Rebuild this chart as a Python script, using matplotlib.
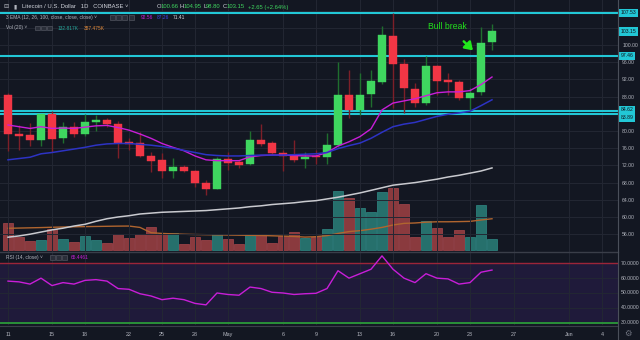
import matplotlib
matplotlib.use("Agg")
import matplotlib.pyplot as plt
import matplotlib.transforms as mtransforms
from matplotlib.patches import Rectangle
import numpy as np

# LTC/USD daily candles, 11 Apr .. 25 May
opens = [88.4, 79.3, 79.0, 77.8, 83.9, 78.3, 80.9, 79.2, 82.1, 82.6,
         81.6, 77.5, 77.1, 74.3, 73.3, 70.7, 71.7, 70.7, 67.8, 66.6,
         73.5, 72.8, 72.3, 77.9, 77.1, 75.0, 74.2, 73.4, 74.2, 73.9,
         76.7, 88.4, 84.9, 88.5, 91.5, 102.2, 95.7, 89.8, 86.6, 95.1,
         91.9, 91.3, 87.6, 89.0, 100.66]
highs = [88.9, 81.4, 81.8, 84.0, 84.6, 82.0, 82.2, 83.9, 83.8, 83.0,
         82.4, 78.3, 79.8, 75.2, 74.8, 73.7, 72.0, 70.9, 68.6, 74.0,
         75.2, 73.3, 80.0, 81.6, 77.6, 75.6, 77.9, 75.2, 75.6, 79.5,
         96.1, 94.3, 93.6, 94.3, 104.4, 107.53, 96.7, 91.1, 97.4, 95.3,
         93.6, 91.9, 89.9, 104.1, 104.95]
lows = [75.4, 75.6, 76.5, 76.5, 75.2, 77.3, 78.7, 78.9, 80.1, 81.0,
        73.7, 75.6, 74.0, 70.5, 69.0, 69.0, 70.4, 66.9, 65.1, 66.4,
        70.9, 71.4, 72.0, 76.4, 74.6, 70.8, 72.9, 71.3, 72.3, 72.3,
        76.3, 83.0, 83.7, 85.7, 91.0, 85.3, 84.1, 85.7, 86.0, 88.4,
        88.4, 87.2, 84.9, 88.4, 98.80]
closes = [79.2, 78.9, 77.9, 83.9, 78.2, 81.0, 79.2, 82.1, 82.6, 81.7,
          77.3, 77.0, 74.3, 73.1, 70.8, 71.7, 70.7, 67.8, 66.6, 73.5,
          72.6, 72.2, 77.8, 76.9, 74.8, 74.2, 73.3, 73.9, 73.9, 76.7,
          88.4, 84.9, 88.3, 91.7, 102.3, 95.7, 89.9, 86.6, 95.1, 91.6,
          91.3, 87.7, 88.9, 100.4, 103.15]
volume_k = [339, 157, 115, 124, 257, 140, 99, 174, 124, 91,
            198, 145, 195, 281, 198, 215, 71, 157, 124, 198,
            140, 74, 198, 198, 83, 174, 223, 153, 165, 257,
            732, 649, 525, 467, 715, 773, 567, 165, 360, 273,
            157, 248, 165, 554, 132.817]
vol_ma_k = [269, 272, 275, 278, 282, 285, 288, 290, 292, 294,
            296, 297, 280, 215, 205, 200, 195, 192, 190, 188,
            186, 184, 182, 180, 176, 172, 168, 160, 165, 178,
            205, 228, 240, 258, 280, 310, 330, 335, 345, 350,
            350, 352, 355, 372, 387.475]
ema12 = [81.4, 81.0, 80.6, 81.0, 80.6, 80.7, 80.6, 80.9, 81.2, 81.3,
         80.8, 80.2, 79.3, 78.3, 77.1, 76.2, 75.4, 74.2, 73.3, 73.1,
         73.1, 73.1, 74.0, 74.3, 74.4, 74.4, 74.3, 74.2, 74.2, 75.0,
         76.5, 77.5, 78.7, 80.5, 84.9, 86.5, 87.0, 87.5, 88.2, 88.9,
         89.1, 89.1, 89.4, 90.8, 92.56]
ema26 = [73.3, 73.6, 73.9, 74.7, 75.0, 75.4, 75.8, 76.2, 76.7, 77.0,
         77.1, 77.1, 76.9, 76.7, 76.4, 76.0, 75.5, 75.0, 74.5, 74.3,
         74.2, 74.2, 74.3, 74.4, 74.4, 74.4, 74.5, 74.6, 74.7, 75.0,
         75.9, 76.6, 77.2, 78.3, 79.7, 81.0, 81.6, 82.0, 82.7, 83.4,
         83.9, 84.2, 84.6, 85.9, 87.26]
ema100 = [55.3, 55.6, 56.0, 56.5, 57.0, 57.4, 57.9, 58.3, 59.0, 59.6,
          60.0, 60.3, 60.7, 60.9, 61.1, 61.2, 61.3, 61.4, 61.5, 61.7,
          61.9, 62.1, 62.4, 62.6, 62.9, 63.1, 63.3, 63.6, 63.8, 64.2,
          64.6, 65.1, 65.6, 66.2, 66.8, 67.4, 67.7, 68.0, 68.4, 68.8,
          69.3, 69.7, 70.2, 70.7, 71.41]
rsi = [58.0, 57.5, 56.0, 60.0, 55.0, 57.0, 56.0, 58.5, 59.0, 58.0,
       53.0, 52.5, 49.5, 48.0, 45.5, 46.5, 45.5, 43.0, 42.0, 50.0,
       49.0, 48.5, 54.0, 53.0, 50.5, 50.0, 49.0, 49.5, 49.8, 53.0,
       65.0, 60.0, 63.0, 66.0, 75.0, 66.0, 60.0, 57.0, 63.0, 60.0,
       59.5, 56.0, 57.0, 64.0, 65.4461]

tick_days = [0, 4, 7, 11, 14, 17, 20, 25, 28, 32, 35, 39, 42, 46, 51, 54]
tick_labels = ['11', '15', '18', '22', '25', '28', 'May', '6', '9', '13',
               '16', '20', '23', '27', 'Jun', '4']
levels = [107.53, 97.46, 84.62, 83.89]
price_ticks = np.arange(56, 112, 4)
# scale values that sit under the level boxes get no text
hidden_ticks = {84, 104, 108}

BG = '#131722'
GRID = '#232733'
TXT = '#b2b5be'
UP, DOWN = '#3fd65f', '#f23645'
UP_WICK, DOWN_WICK = '#1f6e2e', '#7d1f28'
CYAN = '#22c7d6'
W, H = 640, 340

plt.rcParams['font.family'] = ['Liberation Sans', 'DejaVu Sans']


def rect(x0, y0, x1, y1):
    return [x0 / W, 1 - y1 / H, (x1 - x0) / W, (y1 - y0) / H]


def fx(px):
    return px / W


def fy(py):
    return 1 - py / H


fig = plt.figure(figsize=(6.4, 3.4), dpi=100, facecolor=BG)
day = np.arange(len(closes))
xlim = (-8 / 11, 610 / 11)

# volume sits underneath the price pane
axv = fig.add_axes(rect(0, 0, 618, 252), facecolor=BG)
ax = fig.add_axes(rect(0, 0, 618, 252), facecolor='none')
ax_rsi = fig.add_axes(rect(0, 252, 618, 325), facecolor=BG)

for a in (axv, ax, ax_rsi):
    a.set_xlim(*xlim)
    for s in a.spines.values():
        s.set_visible(False)
    a.tick_params(length=0)

# volume
up = np.array(closes) >= np.array(opens)
vcol = np.where(up, '#26706c', '#8a3a3e')
vedge = np.where(up, '#2f8a85', '#a8474c')
axv.bar(day, volume_k, width=0.94, color=vcol, edgecolor=vedge, linewidth=0.5)
axv.plot(day, vol_ma_k, color='#b0652f', lw=1.0)
axv.set_ylim(-24.8, 3100)
axv.set_xticks([])
axv.set_yticks([])

# price pane
ax.set_ylim(51.86, 110.47)
ax.set_xticks(tick_days)
ax.set_xticklabels([])
ax.set_yticks(price_ticks)
ax.yaxis.tick_right()
ax.set_yticklabels(['' if v in hidden_ticks else f'{v:.2f}' for v in price_ticks],
                   fontsize=3.7, color=TXT)
ax.tick_params(axis='y', pad=3)
ax.grid(True, color=GRID, lw=0.7)
ax.set_axisbelow(True)

ax.plot(day, ema100, color='#c9cacf', lw=1.1, zorder=2)

for lv in levels:
    ax.axhline(lv, color=CYAN, lw=1.5, zorder=3)

wick_cols = [UP_WICK if u else DOWN_WICK for u in up]
body_cols = [UP if u else DOWN for u in up]
ax.vlines(day, lows, highs, colors=wick_cols, lw=1.0, zorder=4)
body_h = np.maximum(np.abs(np.array(closes) - np.array(opens)), 0.25)
body_lo = np.minimum(opens, closes)
ax.bar(day, body_h, bottom=body_lo, width=0.64, color=body_cols,
       edgecolor=body_cols, linewidth=0.3, zorder=5)

ax.plot(day, ema12, color='#c81ed8', lw=1.0, zorder=6)
ax.plot(day, ema26, color='#2d33c4', lw=1.1, zorder=6)

# labels on the price scale
yt = mtransforms.blended_transform_factory(ax.transAxes, ax.transData)
box_labels = [(107.53, 0), (closes[-1], 0), (97.46, 0), (84.62, 1.5), (83.89, -3.5)]
for val, dy in box_labels:
    tr = mtransforms.offset_copy(yt, fig=fig, x=0, y=dy, units='dots')
    ax.text(1.004, val, f'{val:.2f}', transform=tr, fontsize=3.7,
            color='#10141c', va='center', ha='left', clip_on=False, zorder=20,
            bbox=dict(boxstyle='square,pad=0.3', fc=CYAN, ec='none'))

ax.annotate('', xy=(day[43] - 0.55, 98.3), xytext=(day[43] - 1.75, 101.3),
            arrowprops=dict(arrowstyle='-|>,head_length=0.45,head_width=0.3',
                            color='#22e81c', lw=1.8), zorder=8)
ax.text(day[43] - 3.1, 104.2, 'Bull break', color='#22e01c', fontsize=6.2,
        ha='center', va='center', zorder=8)

# RSI pane
ax_rsi.set_ylim(28.45, 77.61)
ax_rsi.fill_between(xlim, 30, 70, color='#1f1a3a', zorder=0)
ax_rsi.axhline(70, color='#9c2538', lw=1.0)
ax_rsi.axhline(30, color='#2b9a38', lw=1.3)
ax_rsi.plot(day, rsi, color='#c81ed8', lw=1.0, zorder=5)
ax_rsi.set_xticks(tick_days)
ax_rsi.set_xticklabels(tick_labels, fontsize=3.9, color=TXT)
ax_rsi.tick_params(axis='x', pad=5)
ax_rsi.set_yticks([40, 50, 60])
ax_rsi.yaxis.tick_right()
ax_rsi.set_yticklabels([])
ax_rsi.grid(True, color=GRID, lw=0.7)
ax_rsi.set_axisbelow(True)
for v in [30, 40, 50, 60, 70]:
    ax_rsi.text(1.004, v, f'{v:.4f}', fontsize=3.7, color=TXT, va='center',
                ha='left', clip_on=False,
                transform=mtransforms.blended_transform_factory(ax_rsi.transAxes, ax_rsi.transData))

# pane separators and the scale border
fig.add_artist(plt.Line2D([0, fx(618)], [fy(252), fy(252)], color='#3a3e49', lw=1.0))
fig.add_artist(plt.Line2D([0, fx(618)], [fy(325.5), fy(325.5)], color='#3a3e49', lw=0.8))
fig.add_artist(plt.Line2D([fx(618), fx(618)], [0, 1], color='#4a4f5a', lw=0.8))
fig.text(fx(628), fy(333), '\u2699', fontsize=6, color='#6f7380',
         ha='center', va='center', family='DejaVu Sans')


def icons(x0, y, n):
    for i in range(n):
        fig.add_artist(Rectangle((fx(x0 + i * 6.2), fy(y + 2.3)), fx(5), 4.6 / H,
                                 transform=fig.transFigure, fc='#2a2e39',
                                 ec='#5d606b', lw=0.4))


# legend header
fig.text(fx(3), fy(7), '\u229f', fontsize=4.5, color=TXT, va='center',
         family='DejaVu Sans')
fig.text(fx(13), fy(7), '\u25ae', fontsize=4.2, color=TXT, va='center',
         family='DejaVu Sans')
fig.text(fx(22), fy(7), 'Litecoin / U.S. Dollar   1D   COINBASE \u02c5',
         fontsize=4.2, color='#d1d4dc', va='center')
ohlc = [('O', '100.66', 157), ('H', '104.95', 180), ('L', '98.80', 203),
        ('C', '103.15', 223)]
for k, v, x0 in ohlc:
    fig.text(fx(x0), fy(7), k, fontsize=4.2, color='#d1d4dc', va='center')
    fig.text(fx(x0 + 3.2), fy(7), v, fontsize=4.2, color='#3fd65f', va='center')
fig.text(fx(248), fy(7), '+2.65 (+2.64%)', fontsize=4.2, color='#3fd65f',
         va='center')

fig.text(fx(6), fy(17.5), '3 EMA (12, 26, 100, close, close, close) \u02c5',
         fontsize=3.5, color=TXT, va='center')
icons(110, 17.5, 4)
fig.text(fx(141), fy(17.5), '92.56', fontsize=3.5, color='#c81ed8', va='center')
fig.text(fx(157), fy(17.5), '87.26', fontsize=3.5, color='#4046e6', va='center')
fig.text(fx(173), fy(17.5), '71.41', fontsize=3.5, color='#d8d9dd', va='center')

fig.text(fx(6), fy(28), 'Vol (20) \u02c5', fontsize=3.5, color=TXT, va='center')
icons(35, 28, 3)
fig.text(fx(58), fy(28), '132.817K', fontsize=3.5, color='#26a69a', va='center')
fig.text(fx(84), fy(28), '387.475K', fontsize=3.5, color='#e08a3c', va='center')

fig.text(fx(6), fy(257.5), 'RSI (14, close) \u02c5', fontsize=3.5, color=TXT,
         va='center')
icons(50, 257.5, 3)
fig.text(fx(71), fy(257.5), '65.4461', fontsize=3.5, color='#c81ed8', va='center')

fig.savefig('out.png', dpi=100, facecolor=BG)
